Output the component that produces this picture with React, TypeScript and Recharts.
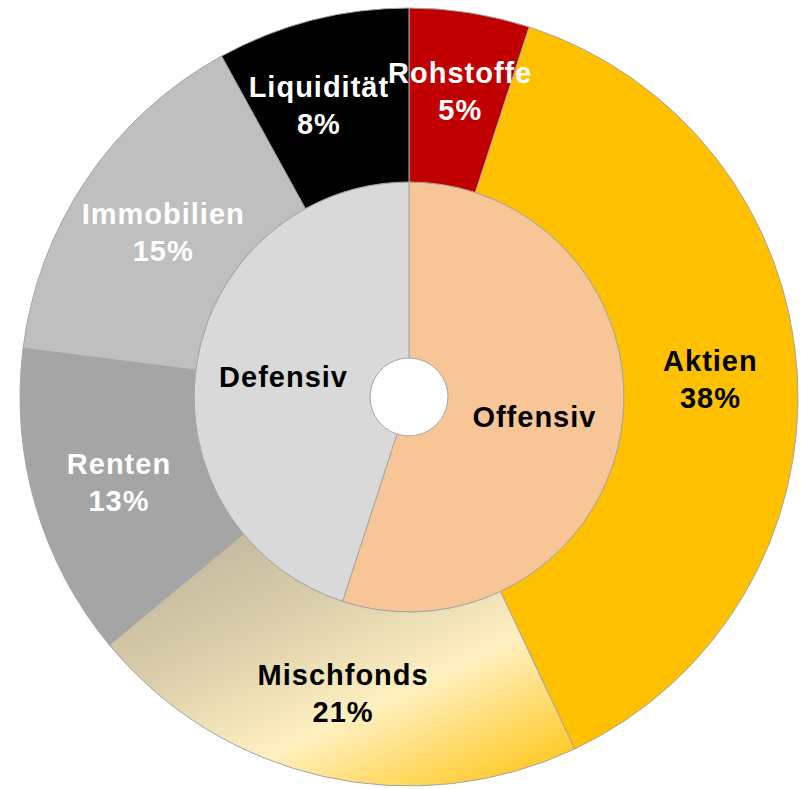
import React from "react";
import { PieChart, Pie, Cell } from "recharts";

const outerNames = ["Rohstoffe", "Aktien", "Mischfonds", "Renten", "Immobilien", "Liquidität"];
const outerValues = [5, 38, 21, 13, 15, 8];
const innerNames = ["Offensiv", "Defensiv"];
const innerValues = [55, 45];

const outerFills = ["#C00000", "#FFC000", "url(#mischGrad)", "#A5A5A5", "#BFBFBF", "#000000"];
const outerTextColors = ["#FFFFFF", "#000000", "#000000", "#FFFFFF", "#FFFFFF", "#FFFFFF"];
const innerFills = ["#F8C597", "#D9D9D9"];
const innerTextColors = ["#000000", "#000000"];
// manual label nudges (like moved data labels in the original), in px
const outerLabelNudgeX = [4, 0, 0, 0, 4, -15];
const outerLabelNudgeY = [-9, 0, 0, 0, 4, 0];

const outerData = outerNames.map((name, i) => ({ name, value: outerValues[i] }));
const innerData = innerNames.map((name, i) => ({ name, value: innerValues[i] }));

const RADIAN = Math.PI / 180;
const FONT = "'Liberation Sans', Arial, Helvetica, sans-serif";

const outerLabel = (props: any) => {
  const { cx, cy, midAngle, innerRadius, outerRadius, name, value, index } = props;
  const r = (innerRadius + outerRadius) / 2;
  const x = cx + r * Math.cos(-midAngle * RADIAN) + outerLabelNudgeX[index];
  const y = cy + r * Math.sin(-midAngle * RADIAN) + outerLabelNudgeY[index];
  return (
    <text
      x={x}
      y={y - 7}
      textAnchor="middle"
      fill={outerTextColors[index]}
      fontFamily={FONT}
      fontWeight="bold"
      fontSize={29}
      letterSpacing={1}
    >
      <tspan x={x} y={y - 7}>{name}</tspan>
      <tspan x={x} y={y + 30}>{`${value}%`}</tspan>
    </text>
  );
};

const innerLabel = (props: any) => {
  const { cx, cy, midAngle, innerRadius, outerRadius, name, index } = props;
  const r = (innerRadius + outerRadius) / 2;
  const x = cx + r * Math.cos(-midAngle * RADIAN);
  const y = cy + r * Math.sin(-midAngle * RADIAN);
  return (
    <text
      x={x}
      y={y + 10}
      textAnchor="middle"
      fill={innerTextColors[index]}
      fontFamily={FONT}
      fontWeight="bold"
      fontSize={29}
      letterSpacing={1}
    >
      {name}
    </text>
  );
};

export default function App() {
  return (
    <div style={{ position: "absolute", left: 0, top: 0, width: 801, height: 789, background: "#FFFFFF" }}>
      <PieChart width={801} height={789} margin={{ top: 0, right: 0, bottom: 0, left: 0 }}>
        <defs>
          <linearGradient id="mischGrad" x1="0" y1="0" x2="0.88" y2="1">
            <stop offset="0" stopColor="#BAB09A" />
            <stop offset="0.35" stopColor="#D8CCA9" />
            <stop offset="0.667" stopColor="#FFF0C0" />
            <stop offset="1" stopColor="#FFC820" />
          </linearGradient>
        </defs>
        <Pie
          data={innerData}
          dataKey="value"
          nameKey="name"
          cx={409}
          cy={397}
          innerRadius={39}
          outerRadius={215}
          startAngle={90}
          endAngle={-270}
          stroke="#A6A6A6"
          strokeWidth={1}
          label={innerLabel}
          labelLine={false}
          isAnimationActive={false}
        >
          {innerData.map((d, i) => (
            <Cell key={d.name} fill={innerFills[i]} />
          ))}
        </Pie>
        <Pie
          data={outerData}
          dataKey="value"
          nameKey="name"
          cx={409}
          cy={397}
          innerRadius={215}
          outerRadius={389}
          startAngle={90}
          endAngle={-270}
          stroke="#A6A6A6"
          strokeWidth={1}
          label={outerLabel}
          labelLine={false}
          isAnimationActive={false}
        >
          {outerData.map((d, i) => (
            <Cell key={d.name} fill={outerFills[i]} />
          ))}
        </Pie>
      </PieChart>
    </div>
  );
}
